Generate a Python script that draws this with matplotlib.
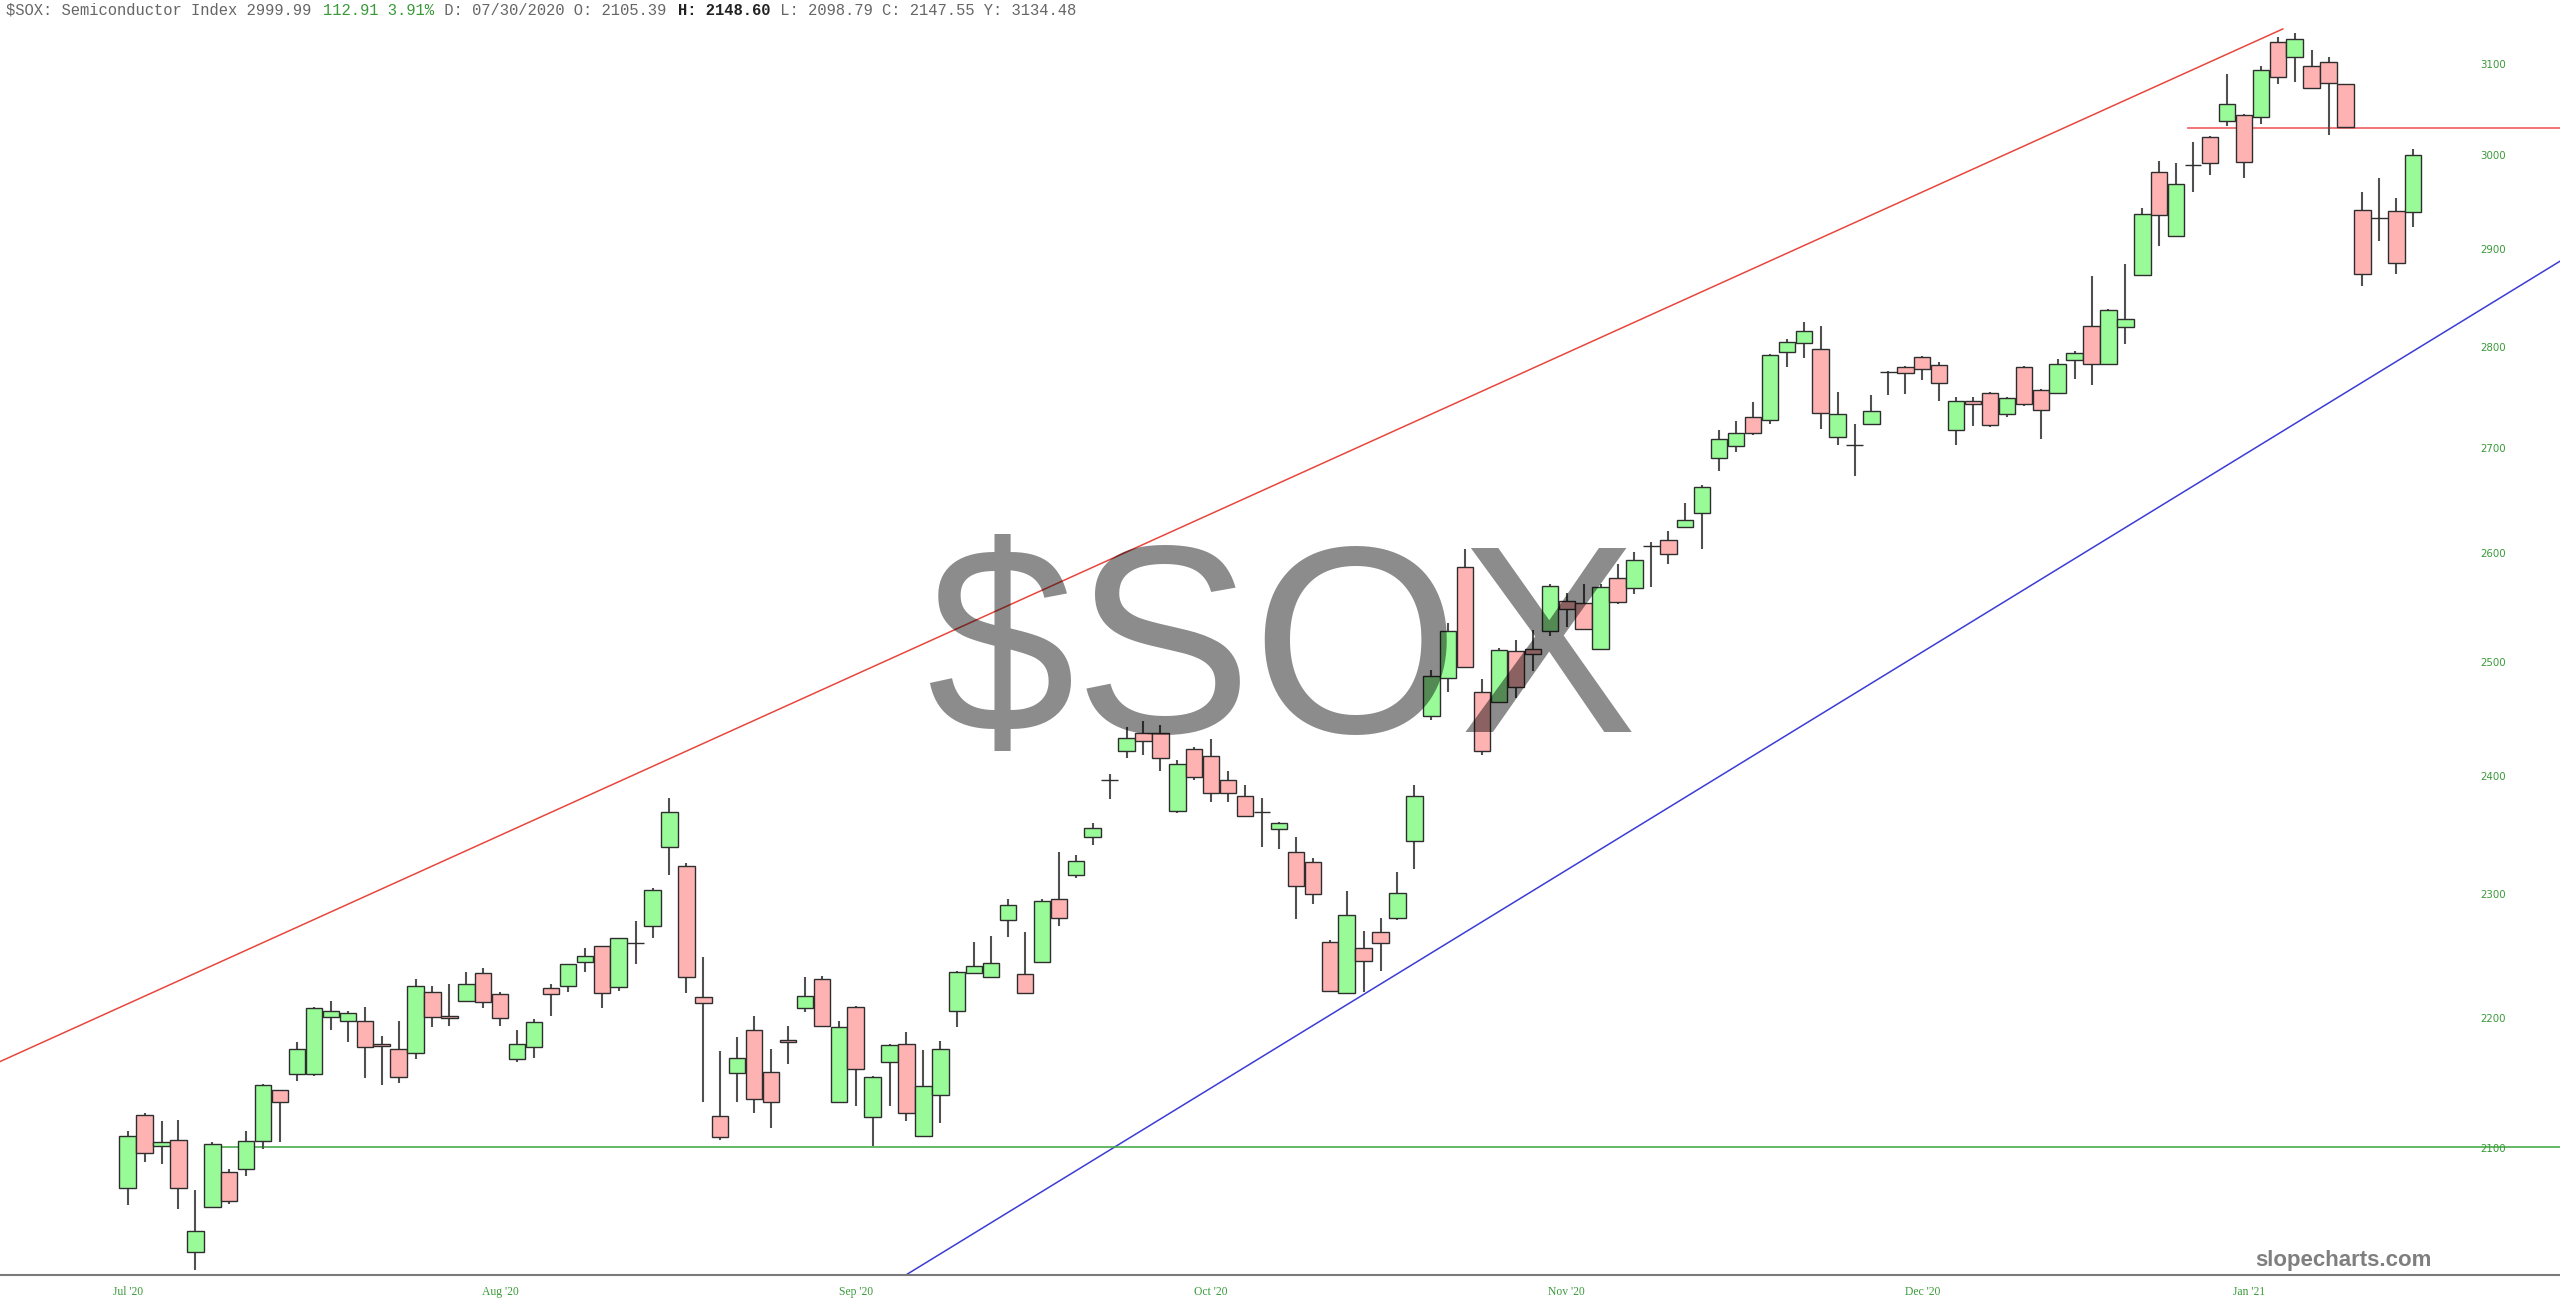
import numpy as np
import matplotlib.pyplot as plt
from matplotlib.transforms import IdentityTransform

# daily OHLC, one entry per candle (left to right)
opens = [2070, 2125, 2101, 2106, 2023, 2056, 2082, 2084, 2105.39, 2144,
         2156, 2156, 2201, 2198, 2198, 2180, 2176, 2173, 2221, 2202,
         2214, 2236, 2219, 2168, 2177, 2224, 2226, 2245, 2258, 2225,
         2260, 2274, 2340, 2324, 2217, 2124, 2157, 2191, 2158, 2183,
         2208, 2231, 2135, 2209, 2123, 2166, 2180, 2109, 2140, 2206,
         2236, 2233, 2279, 2235, 2245, 2296, 2316, 2348, 2397, 2422,
         2437, 2437, 2370, 2423, 2417, 2397, 2383, 2369, 2355, 2335,
         2327, 2261, 2220, 2256, 2269, 2281, 2345, 2452, 2486, 2587,
         2474, 2465, 2510, 2512, 2528, 2556, 2554, 2512, 2577, 2568,
         2607, 2612, 2625, 2638, 2691, 2702, 2730, 2728, 2795, 2804,
         2798, 2711, 2703, 2724, 2775, 2780, 2790, 2782, 2718, 2746,
         2754, 2733, 2780, 2757, 2754, 2787, 2821, 2783, 2820, 2873,
         2982, 2914, 2989, 3019, 3037, 3043, 3041, 3124, 3108, 3097,
         3102, 3077, 2941, 2933, 2940, 2939]
highs = [2113, 2126, 2120, 2121, 2068, 2104, 2084, 2113, 2148.60, 2144,
         2181, 2209, 2214, 2206, 2209, 2186, 2198, 2231, 2226, 2227,
         2237, 2240, 2221, 2191, 2199, 2227, 2243, 2256, 2258, 2264,
         2278, 2305, 2381, 2326, 2249, 2174, 2185, 2202, 2176, 2194,
         2233, 2234, 2198, 2210, 2155, 2180, 2189, 2175, 2182, 2238,
         2261, 2266, 2296, 2269, 2296, 2335, 2333, 2360, 2402, 2443,
         2448, 2444, 2414, 2425, 2432, 2404, 2392, 2381, 2361, 2348,
         2330, 2263, 2303, 2270, 2281, 2319, 2392, 2493, 2536, 2604,
         2485, 2513, 2520, 2529, 2571, 2563, 2571, 2571, 2590, 2601,
         2611, 2621, 2647, 2665, 2718, 2727, 2745, 2793, 2808, 2825,
         2821, 2755, 2724, 2752, 2776, 2781, 2791, 2785, 2750, 2750,
         2755, 2750, 2781, 2758, 2788, 2796, 2872, 2838, 2885, 2943,
         2993, 2991, 3014, 3020, 3089, 3044, 3097, 3130, 3134.48, 3115,
         3107, 3078, 2960, 2975, 2954, 3006]
lows = [2057, 2089, 2088, 2054, 2010, 2056, 2058, 2079, 2098.79, 2104,
        2151, 2155, 2191, 2181, 2153, 2148, 2149, 2168, 2193, 2194,
        2214, 2208, 2194, 2166, 2169, 2202, 2221, 2237, 2208, 2222,
        2243, 2264, 2316, 2220, 2135, 2106, 2135, 2126, 2115, 2164,
        2205, 2193, 2135, 2132, 2101, 2132, 2120, 2109, 2119, 2193,
        2235, 2233, 2265, 2220, 2245, 2274, 2314, 2341, 2380, 2416,
        2418, 2404, 2368, 2397, 2378, 2378, 2366, 2340, 2338, 2280,
        2292, 2221, 2220, 2221, 2238, 2279, 2321, 2449, 2474, 2495,
        2418, 2464, 2468, 2492, 2524, 2532, 2530, 2511, 2553, 2562,
        2569, 2590, 2624, 2604, 2678, 2696, 2713, 2724, 2780, 2789,
        2719, 2703, 2673, 2723, 2752, 2753, 2767, 2746, 2703, 2722,
        2721, 2730, 2741, 2709, 2753, 2768, 2762, 2782, 2803, 2872,
        2903, 2913, 2960, 2979, 3031, 2975, 3034, 3077, 3080, 3072,
        3022, 3029, 2862, 2909, 2874, 2923]
closes = [2109, 2096, 2104, 2070, 2038, 2103, 2060, 2105, 2147.55, 2135,
          2176, 2208, 2206, 2204, 2177, 2178, 2154, 2226, 2201, 2200,
          2227, 2213, 2200, 2180, 2197, 2219, 2243, 2250, 2220, 2264,
          2260, 2304, 2369, 2233, 2212, 2108, 2169, 2137, 2135, 2181,
          2218, 2194, 2193, 2160, 2154, 2179, 2126, 2147, 2176, 2237,
          2242, 2244, 2291, 2220, 2295, 2281, 2328, 2356, 2397, 2433,
          2430, 2416, 2410, 2399, 2385, 2385, 2366, 2369, 2360, 2307,
          2300, 2222, 2283, 2246, 2260, 2301, 2383, 2488, 2528, 2496,
          2422, 2511, 2478, 2508, 2570, 2548, 2530, 2569, 2555, 2594,
          2607, 2599, 2631, 2663, 2709, 2715, 2715, 2792, 2805, 2816,
          2734, 2733, 2703, 2736, 2775, 2774, 2778, 2764, 2746, 2743,
          2723, 2749, 2743, 2737, 2783, 2794, 2783, 2837, 2828, 2937,
          2936, 2969, 2989, 2991, 3055, 2992, 3093, 3085, 3128, 3073,
          3079, 3030, 2874, 2933, 2886, 2999.99]

month_pos = [0, 22, 43, 64, 85, 106, 125.3]
month_labels = ["Jul '20", "Aug '20", "Sep '20", "Oct '20", "Nov '20", "Dec '20", "Jan '21"]
price_ticks = list(range(2100, 3200, 100))

# drawn lines: (candle index, price) end points
upper_x, upper_y = [-7.54, 127.3], [2166, 3139]
lower_x, lower_y = [45.95, 143.7], [2006, 2888]
support_x, support_y = [5.15, 143.7], [2100.5, 2100.5]
resist_x, resist_y = [121.7, 143.7], [3029, 3029]

W, H = 2560, 1315
fig = plt.figure(figsize=(W / 100, H / 100), dpi=100)
fig.patch.set_facecolor('white')
bottom = (H - 1275) / H
ax = fig.add_axes([0, bottom, 1, 1 - bottom])

x = np.arange(len(opens))
o = np.array(opens, dtype=float)
c = np.array(closes, dtype=float)
hi = np.array(highs, dtype=float)
lo = np.array(lows, dtype=float)

up_col = '#98fb98'
dn_col = '#ffb2b2'
colors = [up_col if cc >= oo else dn_col for oo, cc in zip(o, c)]

ax.vlines(x, lo, hi, color='#505050', linewidth=1.5, zorder=2)
ax.bar(x, np.abs(c - o), bottom=np.minimum(o, c), width=0.97,
       color=colors, edgecolor='#2e2e2e', linewidth=1.0, zorder=3)

ax.plot(upper_x, upper_y, color='#e8473d', linewidth=1.1, zorder=1)
ax.plot(lower_x, lower_y, color='#3c3cd6', linewidth=1.1, zorder=1)
ax.plot(support_x, support_y, color='#3aa53a', linewidth=1.1, zorder=1)
ax.plot(resist_x, resist_y, color='#ef6a6a', linewidth=1.3, zorder=1)

ax.set_yscale('log')
ax.set_ylim(2006.1, 3171.8)
ax.set_xlim(-7.543, 143.67)
ax.minorticks_off()

ax.yaxis.set_ticks_position('right')
ax.set_yticks(price_ticks, [str(t) for t in price_ticks])
ax.tick_params(axis='y', length=0, pad=-80 * 0.72, labelsize=7.4,
               labelcolor='#3a9a3a')
ax.set_xticks(month_pos, month_labels)
ax.tick_params(axis='x', length=0, pad=8, labelsize=8.4, labelcolor='#3a9a3a')
for lab in ax.get_xticklabels():
    lab.set_family('Liberation Serif')

for s in ['top', 'left', 'right']:
    ax.spines[s].set_visible(False)
ax.spines['bottom'].set_color('#7a7a7a')
ax.spines['bottom'].set_linewidth(1.5)

# big symbol watermark over the candles
fig.text(1282 / W, (H - 732) / H, '$SOX', fontsize=192, family='Liberation Sans',
         color='black', alpha=0.45, ha='center', va='baseline', zorder=10)
fig.text(2343 / W, (H - 1266) / H, 'slopecharts.com', fontsize=16,
         family='Liberation Sans', weight='bold', color='#7f7f7f',
         ha='center', va='baseline')

# header line in monospace, split by colour
hdr_size = 11.2
cw = hdr_size * 100 / 72 * 0.6001
parts = [("$SOX: Semiconductor Index 2999.99 ", '#666666', 'normal'),
         ("112.91 3.91%", '#3a9a3a', 'normal'),
         (" D: 07/30/2020 O: 2105.39 ", '#666666', 'normal'),
         ("H: 2148.60", '#222222', 'bold'),
         (" L: 2098.79 C: 2147.55 Y: 3134.48", '#666666', 'normal')]
n = 0
for txt, col, wt in parts:
    fig.text(6 + n * cw, H - 15, txt, transform=IdentityTransform(),
             family='Liberation Mono', fontsize=hdr_size, color=col,
             weight=wt, ha='left', va='baseline')
    n += len(txt)

fig.savefig('out.png', dpi=100)
